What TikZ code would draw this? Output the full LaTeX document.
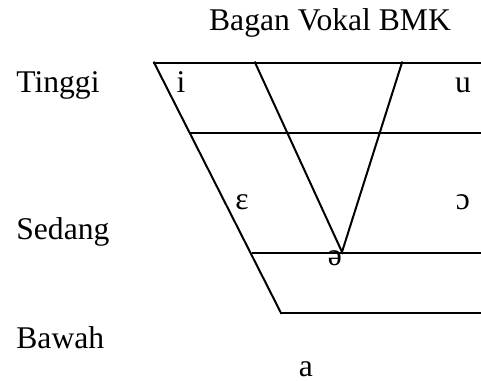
\documentclass[tikz,border=0pt]{standalone}
\usepackage{fontspec}
\setmainfont{Liberation Serif}
\usepackage{tikz}
\usetikzlibrary{positioning}

\begin{document}
\begin{tikzpicture}[x=0.5pt,y=-0.5pt,
  lbl/.style={inner sep=0pt,anchor=base west,font=\fontsize{15.8}{19}\selectfont},
  vok/.style={inner sep=0pt,anchor=base,font=\fontsize{15.8}{19}\selectfont},
  garis/.style={line width=1pt,line cap=rect}]
\useasboundingbox (0,0) rectangle (481,380);
% vowel chart frame
\coordinate (tl) at (154,62.5);
\coordinate (tr) at (481,62.5);
\coordinate (ml) at (191,133);
\coordinate (mr) at (481,133);
\coordinate (ll) at (253,253);
\coordinate (lr) at (481,253);
\coordinate (bl) at (281,313);
\coordinate (br) at (481,313);
\coordinate (ct) at (255,62.5);
\coordinate (bk) at (402,62.5);
\coordinate (apex) at (342,252);
\node[vok] (judul) at (330,30) {Bagan Vokal BMK};
\node[lbl] (tinggi) at (16,92) {Tinggi};
\node[lbl] (sedang) at (16,239) {Sedang};
\node[lbl] (bawah) at (16,348) {Bawah};
\node[vok] (vi) at (181,92) {i};
\node[vok] (vu) at (463,92) {u};
\node[vok] (ve) at (242,209) {ɛ};
\node[vok] (vo) at (463,209) {ɔ};
\node[vok] (vschwa) at (335,265) {ə};
\node[vok] (va) at (306,376) {a};
\draw[garis] (tl) -- (tr);
\draw[garis] (ml) -- (mr);
\draw[garis] (ll) -- (lr);
\draw[garis] (bl) -- (br);
\draw[garis] (tl) -- (bl);
\draw[garis] (ct) -- (apex) -- (bk);
\end{tikzpicture}
\end{document}
